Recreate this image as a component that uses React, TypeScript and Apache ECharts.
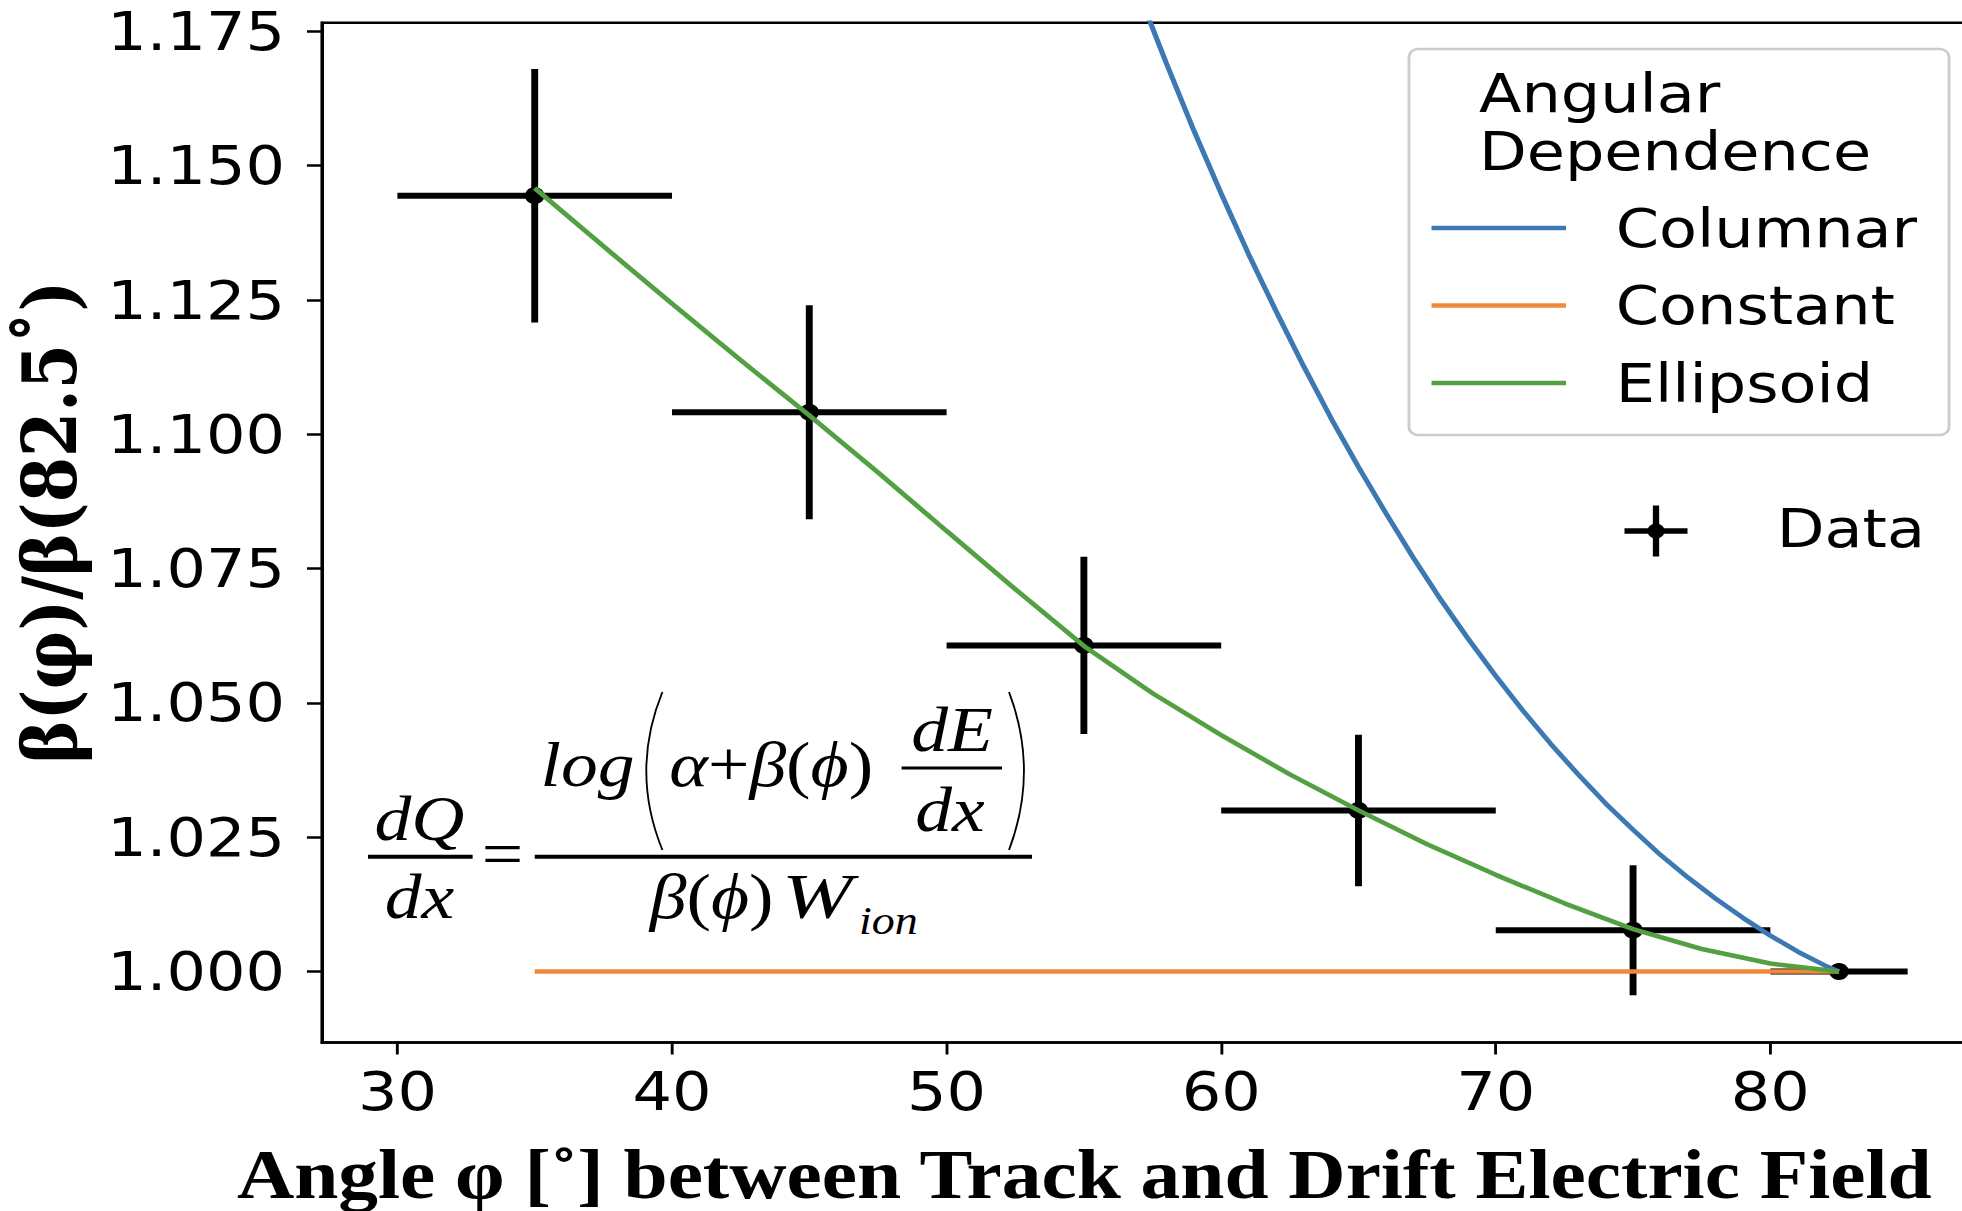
import React, { useEffect, useRef } from "react";
import * as echarts from "echarts";

// horizontal stretch of the reference picture
const SX = 1.15;
const W = 1706;
const H = 1211;

const xTicks = [30, 40, 50, 60, 70, 80];
const yTicks = [1.0, 1.025, 1.05, 1.075, 1.1, 1.125, 1.15, 1.175];

const dataX = [35, 45, 55, 65, 75, 82.5];
const dataY = [1.1444, 1.1041, 1.0607, 1.03, 1.0077, 1.0];
const dataXErr = [5, 5, 5, 5, 5, 2.5];
const dataYErr = [0.0236, 0.0199, 0.0165, 0.0141, 0.0121, 0];

const ellipsoidX = [35, 37.5, 40, 42.5, 45, 47.5, 50, 52.5, 55, 57.5, 60, 62.5, 65, 67.5, 70, 72.5, 75, 77.5, 80, 82.5];
const ellipsoidY = [1.1458, 1.135, 1.1243, 1.1138, 1.1035, 1.0929, 1.082, 1.0712, 1.0606, 1.0518, 1.044, 1.0367, 1.03, 1.0237, 1.018, 1.0127, 1.0079, 1.0042, 1.0015, 1.0];

const columnarX = [57, 58, 59, 60, 61, 62, 63, 64, 65, 66, 67, 68, 69, 70, 71, 72, 73, 74, 75, 76, 77, 78, 79, 80, 81, 82, 82.5];
const columnarY = [1.1821, 1.1691, 1.1566, 1.1448, 1.1335, 1.1229, 1.1127, 1.103, 1.0939, 1.0853, 1.077, 1.0692, 1.0619, 1.055, 1.0485, 1.0424, 1.0367, 1.0313, 1.0264, 1.0217, 1.0175, 1.0136, 1.01, 1.0067, 1.0037, 1.0011, 1.0];

const constantX = [35, 82.5];
const constantY = [1.0, 1.0];

const seriesNames = ["Columnar", "Constant", "Ellipsoid"];
const seriesColors = ["#3c78b2", "#f0883a", "#52a041"];

const zip = (xs: number[], ys: number[]) => xs.map((x, i) => [x, ys[i]]);

function txt(text: string, x: number, y: number, o: any = {}) {
  const style: any = {
    text,
    fill: "#000",
    fontSize: o.fontSize || 54,
    fontFamily: o.fontFamily || "DejaVu Sans",
    fontWeight: o.fontWeight || "normal",
    fontStyle: o.fontStyle || "normal",
    align: o.align || "left",
    textAlign: o.align || "left",
    verticalAlign: "middle",
    textVerticalAlign: "middle",
  };
  if (o.rich) style.rich = o.rich;
  return {
    type: "text",
    x,
    y,
    rotation: o.rotation || 0,
    scaleX: o.scaleX || 1,
    z: 100,
    style,
  };
}

function ln(x1: number, y1: number, x2: number, y2: number, stroke: string, lineWidth: number) {
  return { type: "line", z: 100, shape: { x1, y1, x2, y2 }, style: { stroke, lineWidth } };
}

export default function App() {
  const ref = useRef<HTMLDivElement>(null);

  useEffect(() => {
    if (!ref.current) return;
    const chart = echarts.init(ref.current, null, { renderer: "svg" });

    const F = "Liberation Serif";
    const fs = 64;
    const it = { fontSize: fs, fontFamily: F, fontStyle: "italic" };
    const up = { fontSize: fs, fontFamily: F };
    const rich = {
      i: { fontSize: fs, fontFamily: F, fontStyle: "italic", fill: "#000", color: "#000" },
      u: { fontSize: fs, fontFamily: F, fontStyle: "normal", fill: "#000", color: "#000" },
    };
    const graphic: any[] = [
      // legend box
      {
        type: "rect",
        z: 99,
        shape: { x: 1225.2, y: 49, width: 469.6, height: 386, r: 8 },
        style: { fill: "rgba(255,255,255,0.85)", stroke: "#cccccc", lineWidth: 2.5 },
      },
      txt("Angular", 1286, 93),
      txt("Dependence", 1286, 151),
      ...seriesNames.map((n, i) => ln(1244.8, 228 + i * 77.5, 1361.7, 228 + i * 77.5, seriesColors[i], 4.5)),
      ...seriesNames.map((n, i) => txt(n, 1405, 228 + i * 77.5)),
      // data legend
      ln(1412.6, 531, 1467.4, 531, "#000", 5.5),
      ln(1440, 505.5, 1440, 556.5, "#000", 5.5),
      { type: "circle", z: 100, shape: { cx: 1440, cy: 531, r: 7.5 }, style: { fill: "#000" } },
      txt("Data", 1545, 528),
      // axis titles
      txt("Angle φ [˚] between Track and Drift Electric Field", 206, 1174.4, {
        fontSize: 69,
        fontFamily: "Liberation Serif",
        fontWeight: "bold",
      }),
      txt("β(φ)/β(82.5˚)", 43, 522, {
        fontSize: 65,
        fontFamily: "DejaVu Serif",
        fontWeight: "bold",
        align: "center",
        rotation: Math.PI / 2,
      }),
      // formula
      txt("dQ", 364.8, 818.4, { ...it, align: "center" }),
      { type: "rect", z: 100, shape: { x: 320, y: 854.7, width: 91, height: 4 }, style: { fill: "#000" } },
      txt("dx", 364.8, 896.4, { ...it, align: "center" }),
      txt("=", 437, 853.4, { ...up, align: "center" }),
      { type: "rect", z: 100, shape: { x: 465, y: 854.7, width: 432.4, height: 4 }, style: { fill: "#000" } },
      txt("log", 470, 765, it),
      {
        type: "bezierCurve",
        z: 100,
        shape: { x1: 576, y1: 692, x2: 576, y2: 850, cpx1: 548, cpy1: 771 },
        style: { stroke: "#000", lineWidth: 1.6, fill: "none" },
      },
      txt("{i|α}{u|+}{i|β}{u|(}{i|ϕ}{u|)}", 582, 765, { ...it, rich }),
      txt("dE", 828, 730, { ...it, align: "center" }),
      { type: "rect", z: 100, shape: { x: 784, y: 766.5, width: 87.3, height: 3 }, style: { fill: "#000" } },
      txt("dx", 826, 810, { ...it, align: "center" }),
      {
        type: "bezierCurve",
        z: 100,
        shape: { x1: 877.4, y1: 692, x2: 877.4, y2: 850, cpx1: 903.4, cpy1: 771 },
        style: { stroke: "#000", lineWidth: 1.6, fill: "none" },
      },
      txt("{i|β}{u|(}{i|ϕ}{u|)}", 565, 896.7, { ...it, rich }),
      txt("W", 680, 896.7, { ...it, scaleX: 1.15 }),
      txt("ion", 747, 921, { fontSize: 40, fontFamily: F, fontStyle: "italic" }),
    ];

    const errData = dataX.map((x, i) => [x, dataY[i], dataXErr[i], dataYErr[i]]);

    chart.setOption({
      animation: false,
      backgroundColor: "#ffffff",
      grid: {
        left: 279.9,
        top: 22.7,
        width: 1444.6,
        height: 1019.8,
        show: true,
        borderColor: "#000",
        borderWidth: 2.5,
        backgroundColor: "transparent",
        containLabel: false,
        outerBoundsMode: "none",
      },
      xAxis: {
        type: "value",
        min: 27.25,
        max: 87.75,
        axisLine: { show: true, onZero: false, lineStyle: { color: "#000", width: 2.5 } },
        axisTick: { show: true, length: 12, lineStyle: { color: "#000", width: 2.5 }, customValues: xTicks },
        axisLabel: {
          customValues: xTicks,
          fontSize: 54,
          fontFamily: "DejaVu Sans",
          color: "#000",
          margin: 22,
        },
        splitLine: { show: false },
      },
      yAxis: {
        type: "value",
        min: 0.9868,
        max: 1.1766,
        axisLine: { show: true, onZero: false, lineStyle: { color: "#000", width: 2.5 } },
        axisTick: { show: true, length: 13, lineStyle: { color: "#000", width: 2.5 }, customValues: yTicks },
        axisLabel: {
          customValues: yTicks,
          fontSize: 54,
          fontFamily: "DejaVu Sans",
          color: "#000",
          margin: 32,
          formatter: (v: number) => v.toFixed(3),
        },
        splitLine: { show: false },
      },
      series: [
        {
          type: "custom",
          name: "Data",
          z: 1,
          data: errData,
          encode: { x: 0, y: 1 },
          renderItem: (params: any, api: any) => {
            const x = api.value(0);
            const y = api.value(1);
            const xe = api.value(2);
            const ye = api.value(3);
            const c = api.coord([x, y]);
            const l = api.coord([x - xe, y]);
            const r = api.coord([x + xe, y]);
            const t = api.coord([x, y + ye]);
            const b = api.coord([x, y - ye]);
            const children: any[] = [
              { type: "line", shape: { x1: l[0], y1: l[1], x2: r[0], y2: r[1] }, style: { stroke: "#000", lineWidth: 6 } },
            ];
            if (ye > 0) {
              children.push({
                type: "line",
                shape: { x1: t[0], y1: t[1], x2: b[0], y2: b[1] },
                style: { stroke: "#000", lineWidth: 6 },
              });
            }
            children.push({ type: "circle", shape: { cx: c[0], cy: c[1], r: 8.5 }, style: { fill: "#000" } });
            return { type: "group", children };
          },
        },
        {
          type: "line",
          name: seriesNames[0],
          z: 3,
          data: zip(columnarX, columnarY),
          showSymbol: false,
          symbol: "none",
          clip: true,
          lineStyle: { color: seriesColors[0], width: 4.5 },
        },
        {
          type: "line",
          name: seriesNames[1],
          z: 3,
          data: zip(constantX, constantY),
          showSymbol: false,
          symbol: "none",
          lineStyle: { color: seriesColors[1], width: 4.5 },
        },
        {
          type: "line",
          name: seriesNames[2],
          z: 3,
          data: zip(ellipsoidX, ellipsoidY),
          showSymbol: false,
          symbol: "none",
          lineStyle: { color: seriesColors[2], width: 4.5 },
        },
      ],
      graphic,
    });

    return () => chart.dispose();
  }, []);

  return (
    <div
      ref={ref}
      style={{
        position: "absolute",
        left: 0,
        top: 0,
        width: W,
        height: H,
        transform: `scaleX(${SX})`,
        transformOrigin: "0 0",
        background: "#fff",
      }}
    />
  );
}
